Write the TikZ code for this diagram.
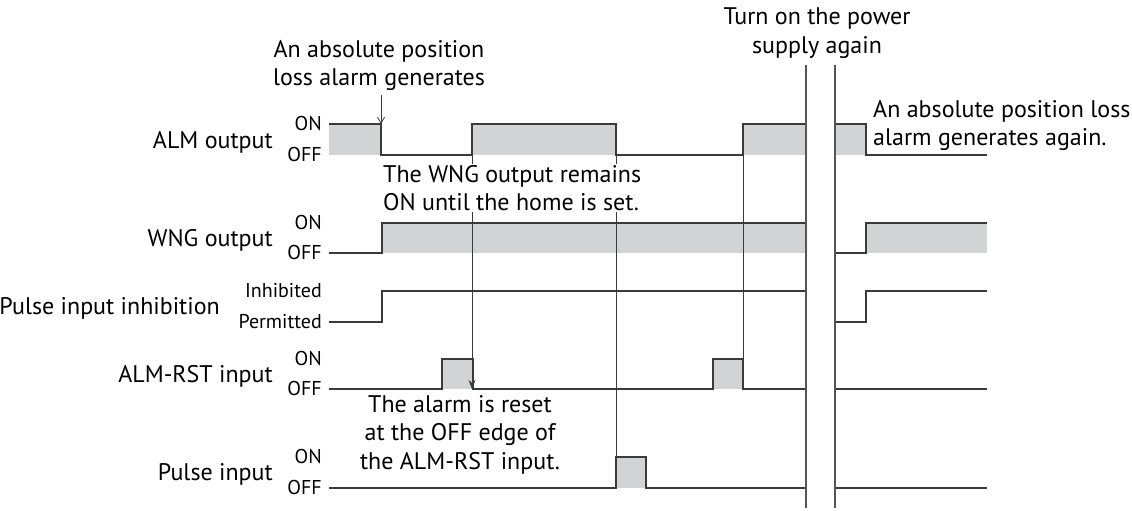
\documentclass[tikz,border=0pt]{standalone}
\usepackage{fontspec}
\setmainfont{PT Sans}
\usetikzlibrary{arrows.meta}
\definecolor{wavegray}{HTML}{3A3A3A}
\definecolor{bandgray}{HTML}{D1D3D4}
\definecolor{guidegray}{HTML}{555555}
\begin{document}
\begin{tikzpicture}[x=1pt, y=-1pt,
    wave/.style={line width=1.3pt, draw=wavegray, line join=miter},
    band/.style={fill=bandgray},
    guide/.style={line width=1pt, draw=wavegray},
    breakline/.style={line width=1.5pt, draw=guidegray},
    sig/.style={font=\fontsize{24}{28}\selectfont, anchor=base east, inner sep=0pt},
    lvl/.style={font=\fontsize{20}{24}\selectfont, anchor=base east, inner sep=0pt},
    note/.style={font=\fontsize{24}{28.5}\selectfont, anchor=north, inner sep=0pt}
]
\useasboundingbox (0,0) rectangle (1132,511);

% signal names and levels
\node[sig] (alm)  at (273,148) {ALM output};
\node[sig] (wng)  at (273,246) {WNG output};
\node[sig] (inh)  at (220,314) {Pulse input inhibition};
\node[sig] (rst)  at (273,382) {ALM-RST input};
\node[sig] (pls)  at (273,480) {Pulse input};
\node[lvl] (almon)  at (322,130) {ON};
\node[lvl] (almoff) at (322,161) {OFF};
\node[lvl] (wngon)  at (322,229) {ON};
\node[lvl] (wngoff) at (322,259) {OFF};
\node[lvl] (inhon)  at (322,297) {Inhibited};
\node[lvl] (inhoff) at (322,328) {Permitted};
\node[lvl] (rston)  at (322,365) {ON};
\node[lvl] (rstoff) at (322,395) {OFF};
\node[lvl] (plson)  at (322,463) {ON};
\node[lvl] (plsoff) at (322,494) {OFF};

% grey bands
\fill[band] (329,124) rectangle (381,155);
\fill[band] (472,124) rectangle (616,155);
\fill[band] (743,124) rectangle (806,155);
\fill[band] (835,124) rectangle (866,155);
\fill[band] (382,223) rectangle (806,253);
\fill[band] (866,223) rectangle (987,253);
\fill[band] (442,359) rectangle (473,389);
\fill[band] (713,359) rectangle (743,389);
\fill[band] (616,457) rectangle (646,488);

% guide lines
\draw[guide] (616,155) -- (616,457);
\draw[guide] (743,155) -- (743,359);

% waveforms
\draw[wave] (329,124) -- (381,124) -- (381,155) -- (472,155) -- (472,124) -- (616,124) -- (616,155)
  -- (743,155) -- (743,124) -- (806,124);
\draw[wave] (835,124) -- (866,124) -- (866,155) -- (987,155);
\draw[wave] (329,253) -- (382,253) -- (382,223) -- (806,223);
\draw[wave] (835,253) -- (866,253) -- (866,223) -- (987,223);
\draw[wave] (329,322) -- (382,322) -- (382,291) -- (806,291);
\draw[wave] (835,322) -- (866,322) -- (866,291) -- (987,291);
\draw[wave] (329,389) -- (442,389) -- (442,359) -- (473,359) -- (473,389) -- (713,389) -- (713,359)
  -- (743,359) -- (743,389) -- (806,389);
\draw[wave] (835,389) -- (987,389);
\draw[wave] (329,488) -- (616,488) -- (616,457) -- (646,457) -- (646,488) -- (806,488);
\draw[wave] (835,488) -- (987,488);

% reset arrow
\coordinate (almrise) at (472,155);
\coordinate (rstfall) at (472,389);
\draw[guide, -{Stealth[length=9pt, width=7pt]}] (almrise) -- (rstfall);

% break of the time axis
\coordinate (brka) at (806,65);
\coordinate (brkb) at (835,65);
\draw[breakline] (brka) -- ++(0,443);
\draw[breakline] (brkb) -- ++(0,443);

% notes
\node[note, align=center] (lossnote) at (379,40) {An absolute position\\loss alarm generates};
\coordinate (almfall) at (381,124);
\draw[line width=0.8pt, wavegray, -{Straight Barb[length=6pt, width=7pt]}] (lossnote.south -| almfall) ++(0,4) -- (almfall);
\node[note, align=center] (powernote) at (817,8) {Turn on the power\\supply again};
\node[note, align=left, anchor=north west] (againnote) at (873,100) {An absolute position loss\\alarm generates again.};
\node[note, align=left, anchor=north west, fill=white, inner sep=1pt] (wngnote) at (382,164)
  {The WNG output remains\\ON until the home is set.};
\node[note, align=center] (resetnote) at (460,395) {The alarm is reset\\at the OFF edge of\\the ALM-RST input.};
\end{tikzpicture}
\end{document}
